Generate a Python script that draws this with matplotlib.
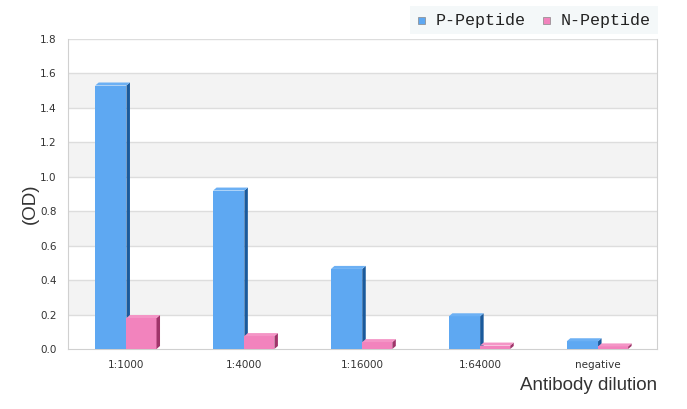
import matplotlib.pyplot as plt
from matplotlib.patches import Polygon

categories = ["1:1000", "1:4000", "1:16000", "1:64000", "negative"]
p_peptide = [1.53, 0.92, 0.465, 0.19, 0.045]
n_peptide = [0.18, 0.075, 0.04, 0.02, 0.015]

fig = plt.figure(figsize=(6.87, 4.09), dpi=100)
ax = fig.add_axes([67.5/687, 60/409, 589.5/687, 310/409])
ax.set_xlim(-0.5, 4.5)
ax.set_ylim(0, 1.8)

# alternating bands
for lo in [0.2, 0.6, 1.0, 1.4]:
    ax.axhspan(lo, lo + 0.2, color='#f3f3f3', zorder=0, lw=0)
for y in [0.2, 0.4, 0.6, 0.8, 1.0, 1.2, 1.4, 1.6, 1.8]:
    ax.axhline(y, color='#dddddd', lw=1, zorder=0.5)

# pixel -> data scale for 3d depth
px_x = 5.0 / 589.5
px_y = 1.8 / 310.0
dx, dy = 3.5 * px_x, 3 * px_y

def bar3d(x0, w, h, front, side, top):
    ax.bar(x0, h, w, align='edge', color=front, zorder=3, lw=0)
    ax.add_patch(Polygon([(x0 + w, 0), (x0 + w + dx, dy), (x0 + w + dx, h + dy), (x0 + w, h)],
                         closed=True, color=side, lw=0, zorder=3))
    ax.add_patch(Polygon([(x0, h), (x0 + dx, h + dy), (x0 + w + dx, h + dy), (x0 + w, h)],
                         closed=True, color=top, lw=0, zorder=3))

wb, wp = 0.265, 0.255
for i in range(len(categories)):
    bar3d(i - wb, wb, p_peptide[i], '#5ea8f2', '#1a5a9c', '#6cb0f4')
    bar3d(i, wp, n_peptide[i], '#f283bd', '#a0346a', '#f495c6')

ax.set_xticks(range(len(categories)))
ax.set_xticklabels(categories)
ax.set_yticks([0, 0.2, 0.4, 0.6, 0.8, 1.0, 1.2, 1.4, 1.6, 1.8])
ax.set_yticklabels(['0.0', '0.2', '0.4', '0.6', '0.8', '1.0', '1.2', '1.4', '1.6', '1.8'])
ax.tick_params(length=0, labelsize=7.5, colors='#333333', pad=8)
for s in ['left', 'bottom', 'right']:
    ax.spines[s].set_color('#d0d0d0')
ax.spines['top'].set_visible(False)

fig.text(30/687, (409-204)/409, '(OD)', rotation=90, fontsize=13.5, color='#333333',
         ha='center', va='center', family='Liberation Sans')
fig.text(657/687, (409-385)/409, 'Antibody dilution', fontsize=13.5, color='#333333',
         ha='right', va='center', family='Liberation Sans')

# legend
fig.patches.append(plt.Rectangle((410/687, (409-34)/409), 248/687, 28/409,
                                 transform=fig.transFigure, color='#f4f8f9', lw=0))
for x, lab, c in [(418, 'P-Peptide', '#5ea8f2'), (543, 'N-Peptide', '#f283bd')]:
    fig.patches.append(plt.Rectangle((x/687, (409-24)/409), 7/687, 7/409,
                                     transform=fig.transFigure, facecolor=c,
                                     edgecolor='#888888', lw=0.5))
    fig.text((x + 18)/687, (409-20)/409, lab, fontsize=12, family='Liberation Mono',
             color='#222222', va='center')

fig.savefig('out.png', dpi=100)
